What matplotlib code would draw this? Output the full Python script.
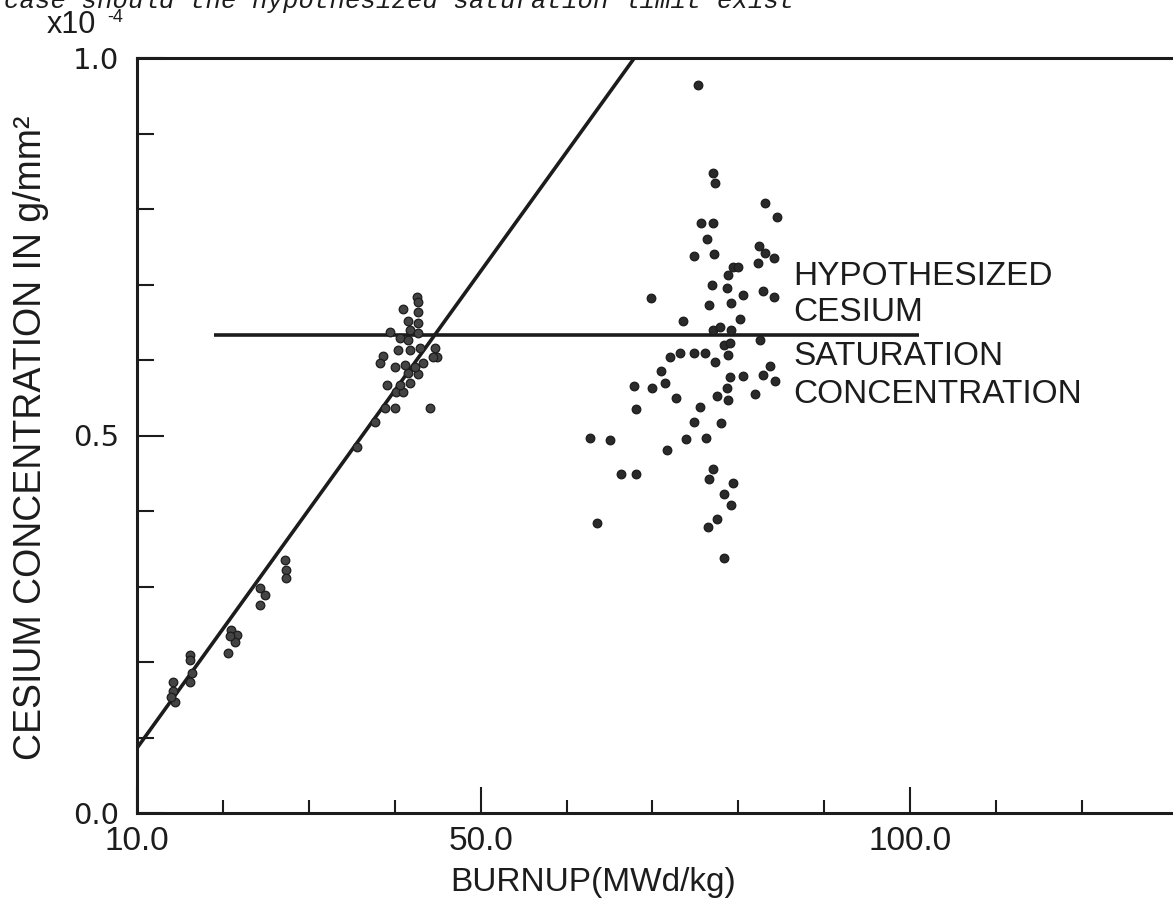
import numpy as np
import matplotlib.pyplot as plt

# burnup (MWd/kg) vs cesium concentration (x1e-4 g/mm^2)
burnup_low = [14.2, 14.2, 14.4, 14.0,
              16.2, 16.2, 16.4, 16.2,
              21.0, 21.6, 21.4, 20.8, 20.6,
              24.3, 24.9, 24.3,
              27.2, 27.4, 27.4,
              35.6, 37.7, 38.9, 40.0, 44.1, 40.2, 41.0, 39.1, 40.6, 41.8,
              41.6, 42.7, 40.0, 41.2, 42.4, 43.3, 38.6, 38.3, 40.4, 41.8,
              43.0, 44.7, 44.9, 44.5, 40.6, 41.6, 39.5, 41.8, 42.7, 41.6,
              42.7, 42.7, 41.0, 42.6, 42.7]
conc_low = [0.174, 0.161, 0.147, 0.154,
            0.209, 0.203, 0.185, 0.174,
            0.242, 0.236, 0.227, 0.234, 0.212,
            0.298, 0.289, 0.275,
            0.335, 0.322, 0.311,
            0.485, 0.518, 0.537, 0.537, 0.537, 0.557, 0.557, 0.567, 0.567, 0.570,
            0.583, 0.581, 0.591, 0.593, 0.591, 0.596, 0.605, 0.596, 0.613, 0.613,
            0.616, 0.616, 0.604, 0.604, 0.629, 0.626, 0.637, 0.640, 0.636, 0.651,
            0.649, 0.663, 0.668, 0.684, 0.677]

burnup_high = [75.3, 77.1, 77.3, 83.1, 84.5, 75.7, 77.0, 76.4, 74.8, 77.2,
               82.4, 83.1, 84.2, 82.3, 79.4, 80.0, 78.8, 76.9, 78.7, 80.6,
               82.9, 84.2, 69.8, 76.6, 79.2, 80.2, 73.6, 77.1, 77.9, 79.2,
               78.3, 78.8, 79.0, 82.5, 72.0, 73.2, 74.8, 76.1, 77.3, 71.0,
               79.0, 80.6, 82.9, 83.7, 84.3, 67.8, 69.9, 71.5, 78.7, 77.5,
               78.8, 72.8, 81.9, 68.1, 75.5, 74.8, 78.0, 62.7, 65.1, 73.9,
               76.2, 71.7, 66.3, 68.1, 77.0, 76.6, 79.4, 78.3, 79.2, 77.5,
               76.5, 63.5, 78.3]
conc_high = [0.964, 0.848, 0.834, 0.808, 0.789, 0.781, 0.781, 0.760, 0.738, 0.740,
             0.751, 0.742, 0.735, 0.729, 0.723, 0.723, 0.713, 0.699, 0.695, 0.686,
             0.691, 0.684, 0.682, 0.673, 0.676, 0.654, 0.652, 0.640, 0.644, 0.640,
             0.620, 0.607, 0.623, 0.626, 0.604, 0.609, 0.609, 0.609, 0.598, 0.586,
             0.578, 0.579, 0.580, 0.592, 0.572, 0.566, 0.563, 0.570, 0.563, 0.552,
             0.547, 0.550, 0.555, 0.535, 0.538, 0.518, 0.516, 0.497, 0.494, 0.495,
             0.497, 0.481, 0.449, 0.449, 0.455, 0.442, 0.437, 0.423, 0.408, 0.390,
             0.379, 0.384, 0.338]

# linear fit through the low-burnup data
fit_burnup = [10.0, 67.9]
fit_conc = [0.086, 1.0]

# hypothesized saturation concentration
sat_burnup = [19.0, 101.0]
sat_conc = 0.633

x_major = [10, 50, 100]
x_labels = ['10.0', '50.0', '100.0']
x_minor = [20, 30, 40, 60, 70, 80, 90, 110, 120]
y_major = [0.0, 0.5, 1.0]
y_labels = ['0.0', '0.5', '1.0']
y_minor = [0.1, 0.2, 0.3, 0.4, 0.6, 0.7, 0.8, 0.9]

ink = '#1c1c1c'
W, H = 1173, 898

fig = plt.figure(figsize=(W / 100, H / 100), dpi=100)
ax = fig.add_axes([137 / W, 1 - 813 / H, (W - 137) / W, (813 - 58) / H])

ax.plot(fit_burnup, fit_conc, color=ink, lw=2.6, solid_capstyle='butt', zorder=3)
ax.plot(sat_burnup, [sat_conc, sat_conc], color=ink, lw=2.6, solid_capstyle='butt', zorder=3)
ax.plot(burnup_low, conc_low, 'o', ms=6.2, mfc='#444444', mec=ink, mew=0.9, zorder=4)
ax.plot(burnup_high, conc_high, 'o', ms=6.2, mfc='#2a2a2a', mec=ink, mew=0.9, zorder=4)

ax.set_xlim(10, 10 + (W - 137) / 8.59)
ax.set_ylim(0, 1.0)

for side in ['left', 'bottom', 'top']:
    ax.spines[side].set_linewidth(2.2)
    ax.spines[side].set_color(ink)
ax.spines['right'].set_visible(False)

ax.set_xticks(x_major)
ax.set_xticklabels(x_labels, family='Liberation Sans', fontsize=24)
ax.set_xticks(x_minor, minor=True)
ax.set_yticks(y_major)
ax.set_yticklabels(y_labels, family='DejaVu Sans', fontsize=21)
ax.set_yticks(y_minor, minor=True)

ax.tick_params(axis='x', which='major', direction='in', length=18.5, width=1.5,
               pad=9, colors=ink)
ax.tick_params(axis='x', which='minor', direction='in', length=9.5, width=1.5, colors=ink)
ax.tick_params(axis='y', which='major', direction='in', length=19.5, width=1.5,
               pad=13, colors=ink)
ax.tick_params(axis='y', which='minor', direction='in', length=12, width=1.5, colors=ink)
ax.tick_params(top=False, right=False, which='both')

# side labels
for text, yv in [('HYPOTHESIZED', 0.711), ('CESIUM', 0.663),
                 ('SATURATION', 0.604), ('CONCENTRATION', 0.554)]:
    ax.text(86.4, yv, text, family='Liberation Sans', fontsize=24, color=ink,
            ha='left', va='center')

fig.text(450 / W, 1 - 883 / H, 'BURNUP(MWd/kg)', family='Liberation Sans',
         fontsize=24, color=ink, ha='left', va='center')
fig.text(31 / W, 1 - 438 / H, 'CESIUM CONCENTRATION IN g/mm\u00b2',
         family='Liberation Sans', fontsize=27, color=ink, rotation=90,
         ha='center', va='center')

fig.text(47 / W, 1 - 25 / H, 'x10', family='Liberation Sans', fontsize=22,
         color=ink, ha='left', va='center')
fig.text(107 / W, 1 - 18 / H, '-4', family='Liberation Sans', fontsize=13,
         color=ink, ha='left', va='center')

# caption text cut off at the top of the scan
fig.text(4 / W, 1 - 8 / H, 'case should the hypothesized saturation limit exist',
         family='Liberation Mono', style='italic', fontsize=18.5, color=ink,
         ha='left', va='baseline')

fig.savefig('out.png', dpi=100)
